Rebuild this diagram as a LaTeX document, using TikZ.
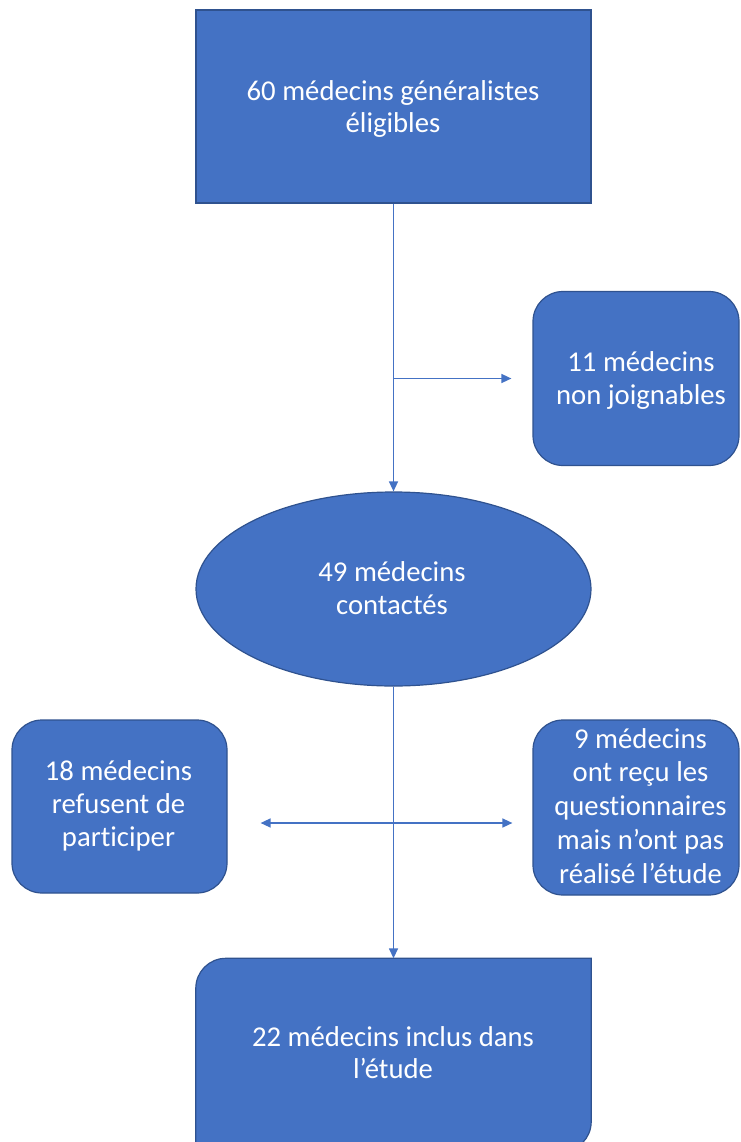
\documentclass[tikz,border=0pt]{standalone}
\usepackage{fontspec}
\setmainfont{Carlito}[Ligatures={NoCommon}]
\usetikzlibrary{arrows.meta,shapes.geometric}
\definecolor{boxblue}{HTML}{4472C4}
\definecolor{edgeblue}{HTML}{2F528F}
\newcommand\firstln{\rule{0pt}{22pt}}
\newcommand\lastln{\rule[-7pt]{0pt}{7pt}}
\begin{document}
\begin{tikzpicture}[x=1pt,y=-1pt,
  every node/.style={inner sep=0pt},
  txt/.style={text=white,font=\fontsize{28.7}{#1}\selectfont,align=center},
  blockbox/.style={draw=edgeblue,line width=1.2pt,fill=boxblue},
  sidebox/.style={blockbox,rounded corners=30pt},
  conn/.style={draw=boxblue,line width=1.5pt,-{Triangle[length=10pt,width=9pt]}},
  dconn/.style={draw=boxblue,line width=1.5pt,{Triangle[length=10pt,width=9pt]}-{Triangle[length=10pt,width=9pt]}}]
\path[use as bounding box] (0,0) rectangle (740,1142);
\clip (0,0) rectangle (740,1142);
% top box
\node[blockbox,minimum width=395pt,minimum height=193pt] (elig) at (393.5,106.5) {};
\node[txt=32pt] (eligt) at (393,109.2) {\firstln 60 médecins généralistes\\éligibles\lastln};
% right box 1
\node[sidebox,minimum width=206pt,minimum height=174pt] (nj) at (636,378.5) {};
\node[txt=33.3pt] (njt) at (641,380.8) {\firstln 11 médecins\\non joignables\lastln};
% ellipse
\node[blockbox,ellipse,minimum width=395pt,minimum height=194pt] (cont) at (393.5,589) {};
\node[txt=32.4pt] (contt) at (392,590.4) {\firstln 49 médecins\\contactés\lastln};
% left box
\node[sidebox,minimum width=215pt,minimum height=173pt] (ref) at (119.5,806.5) {};
\node[txt=33.3pt] (reft) at (118.5,805.8) {\firstln 18 médecins\\refusent de\\participer\lastln};
% right box 2
\node[sidebox,minimum width=206pt,minimum height=175pt] (nr) at (636,807.5) {};
\node[txt=33.75pt] (nrt) at (640.5,808) {\firstln 9 médecins\\ont reçu les\\questionnaires\\mais n’ont pas\\réalisé l’étude\lastln};
% bottom box (rounded top-left and bottom-right corners)
\node[minimum width=395pt,minimum height=193pt] (incl) at (393.5,1055) {};
\path[blockbox] (incl.north east) -- ([yshift=30pt]incl.south east)
  arc[start angle=0,end angle=-90,radius=30pt] -- (incl.south west)
  -- ([yshift=-30pt]incl.north west) arc[start angle=180,end angle=90,radius=30pt] -- cycle;
\node[txt=31.6pt] (inclt) at (393,1055) {\firstln 22 médecins inclus dans\\l’étude\lastln};
% connectors
\coordinate (b1) at (elig.south |- nj.west);
\coordinate (b2) at ([yshift=-16.5pt]ref.east -| cont.south);
\draw[conn] (elig.south) -- (cont.north);
\draw[conn] (b1) -- ([xshift=-21pt]nj.west);
\draw[conn] (cont.south) -- (incl.north);
\draw[dconn] ([xshift=33pt]ref.east |- b2) -- ([xshift=-20pt]nr.west |- b2);
\end{tikzpicture}
\end{document}
